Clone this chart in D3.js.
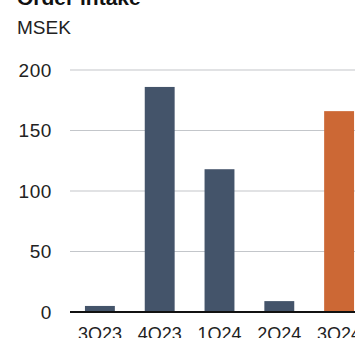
<!DOCTYPE html>
<html><head><meta charset="utf-8">
<script src="https://cdn.jsdelivr.net/npm/d3@7"></script>
<style>html,body{margin:0;padding:0;background:#fff;overflow:hidden}</style>
</head><body><div id="chart"></div>
<script>
const categories = ["3Q23","4Q23","1Q24","2Q24","3Q24"];
const values = [5, 186, 118, 9, 166];
const highlight = [false,false,false,false,true];
const yTicks = [0,50,100,150,200];
const title = "Order intake";
const unit = "MSEK";

const W = 355, H = 338;
const svg = d3.select("#chart").append("svg").attr("width", W).attr("height", H)
  .style("font-family", "'Liberation Sans', Arial, Helvetica, sans-serif");

const x = d3.scaleBand().domain(categories).range([70, 369]).paddingInner(0.5).paddingOuter(0.25);
const y = d3.scaleLinear().domain([0, 200]).range([312, 70]);

svg.append("text").attr("x", 17).attr("y", 5).attr("font-size", 21).attr("font-weight", "bold").attr("fill", "#111").text(title);
svg.append("text").attr("x", 17).attr("y", 34).attr("font-size", 19).attr("fill", "#222").text(unit);

const g = svg.append("g");
g.selectAll("line.grid").data(yTicks.filter(d => d > 0)).join("line").attr("class","grid")
  .attr("x1", 70).attr("x2", W).attr("y1", d => y(d)).attr("y2", d => y(d))
  .attr("stroke", "#c3c6ca").attr("stroke-width", 1.2);

g.selectAll("text.ytick").data(yTicks).join("text").attr("class","ytick")
  .attr("x", 52).attr("y", d => y(d)).attr("dy", "0.36em").attr("text-anchor", "end")
  .attr("font-size", 19).attr("letter-spacing", 0.6).attr("fill", "#222").text(d => d);

g.selectAll("rect.bar").data(categories).join("rect").attr("class","bar")
  .attr("x", d => x(d)).attr("width", x.bandwidth())
  .attr("y", (d,i) => y(values[i])).attr("height", (d,i) => y(0) - y(values[i]))
  .attr("fill", (d,i) => highlight[i] ? "#cc6835" : "#44546a");

g.append("line").attr("x1", 70).attr("x2", W).attr("y1", y(0)).attr("y2", y(0))
  .attr("stroke", "#111").attr("stroke-width", 2);

g.selectAll("text.xtick").data(categories).join("text").attr("class","xtick")
  .attr("x", d => x(d) + x.bandwidth()/2).attr("y", 340).attr("text-anchor", "middle")
  .attr("font-size", 18).attr("fill", "#222").text(d => d);
</script></body></html>
